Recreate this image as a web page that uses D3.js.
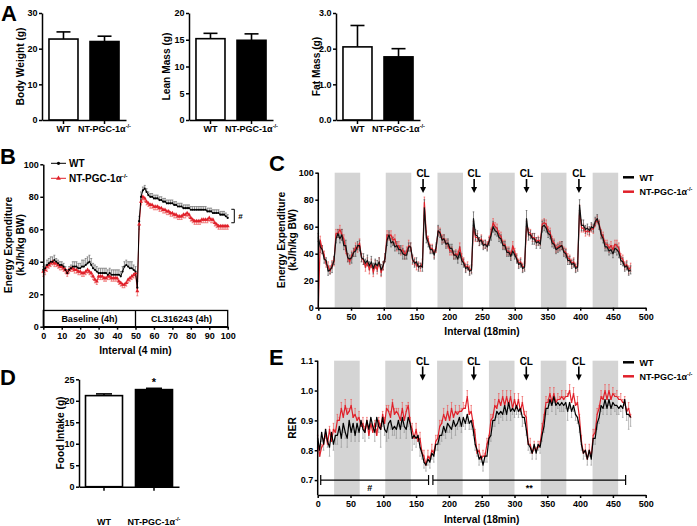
<!DOCTYPE html>
<html><head><meta charset="utf-8">
<script src="https://cdn.jsdelivr.net/npm/d3@7"></script>
<style>
body{margin:0;background:#fff}
svg{display:block}
</style></head><body>
<svg id="chart" width="697" height="526"></svg>
<script>
// ---------------- DATA ----------------
const groups = ["WT", "NT-PGC-1α-/-"];
const bodyWeight = [22.7, 22.0], bodyWeightSem = [2.0, 1.5];
const leanMass = [15.2, 14.9], leanMassSem = [1.0, 1.2];
const fatMass = [2.05, 1.77], fatMassSem = [0.6, 0.23];
const foodIntake = [21.2, 22.6], foodIntakeSem = [0.4, 0.3];
const bwTicks = [0, 10, 20, 30];
const leanTicks = [0, 5, 10, 15, 20];
const fatTicks = [0, 1, 2, 3];
const foodTicks = [0, 5, 10, 15, 20, 25];

// Panel B (interval 4 min, 0..100)
const eeTicks = [0, 20, 40, 60, 80, 100];
const bIntervalTicks = [0, 10, 20, 30, 40, 50, 60, 70, 80, 90, 100];
const bWT = [35,36,38,39,40,40,41,40,39,38,
  38,37,35,33,35,36,37,37,37,36,
  36,37,37,38,39,40,38,36,35,34,
  33,33,33,33,33,32,33,32,32,32,
  32,32,31,34,37,38,37,36,36,35,
  34,24,65,80,84,85,83,81,80,80,
  79,79,79,78,78,77,77,76,76,76,
  76,75,75,74,74,74,73,73,73,73,
  72,72,72,72,72,72,72,72,72,71,
  71,71,70,70,70,70,69,69,69,68,
  67];
const bWTSem = [2,2,3,3,3,3,3,2,2,2,
  2,2,2,2,2,2,3,3,3,3,
  3,4,4,4,4,4,4,3,3,3,
  3,3,3,3,3,3,3,3,3,3,
  3,3,3,3,3,3,3,4,4,3,
  3,4,3,3,2,2,2,2,2,2,
  2,2,2,2,2,2,2,2,2,2,
  2,2,2,2,2,2,2,2,2,2,
  2,2,2,2,2,2,2,2,2,2,
  2,2,2,2,2,2,2,2,2,2,
  2];
const bNT = [34,35,37,38,39,40,39,39,38,37,
  37,36,35,33,35,36,36,35,35,34,
  34,33,33,34,35,34,33,31,29,28,
  31,31,31,30,30,31,31,30,30,30,
  30,28,27,26,26,27,29,30,31,32,
  33,22,63,77,80,79,77,76,75,75,
  74,74,74,73,73,72,72,71,71,70,
  70,69,69,68,68,68,69,69,70,69,
  67,66,65,65,65,65,66,66,66,66,
  67,66,66,64,63,62,62,62,62,62,
  62];
const bNTSem = [3,3,3,2,2,2,2,2,2,2,
  2,2,2,2,2,2,2,2,2,2,
  2,2,2,2,2,2,2,2,2,2,
  2,2,2,2,2,2,2,2,2,2,
  2,2,2,2,2,2,2,2,2,2,
  2,3,3,2,2,2,2,2,2,2,
  2,2,2,2,2,2,2,2,2,2,
  2,2,2,2,2,2,2,2,2,2,
  2,2,2,2,2,2,2,2,2,2,
  2,2,2,2,2,2,2,2,2,2,
  2];
const bPhases = ["Baseline (4h)", "CL316243 (4h)"];

// Panels C & E (interval 18 min, every 3rd interval 0..477)
const intervalTicks18 = [0, 50, 100, 150, 200, 250, 300, 350, 400, 450, 500];
const darkPeriods = [[25,64],[103,142],[182,221],[261,300],[340,379],[419,458]];
const clTimes = [160, 238, 318, 398];
const cWT = [52,45,43,36,35,27,28,30,35,51,
  55,51,54,46,46,37,36,37,41,42,
  46,46,37,36,33,35,31,34,29,33,
  31,34,28,31,37,50,54,48,49,45,
  46,43,43,40,39,39,45,45,36,33,
  34,30,31,30,74,52,48,43,43,39,
  45,57,55,50,51,47,48,44,44,39,
  39,36,41,35,33,29,30,27,28,66,
  54,53,49,50,46,47,45,49,54,60,
  57,56,52,51,46,46,41,41,38,42,
  39,36,32,33,29,30,66,54,54,51,
  51,48,49,47,60,61,59,55,54,48,
  47,43,44,45,46,41,40,35,35,32,
  33,29,30,76,61,61,58,59,57,60,
  59,64,66,61,54,51,45,45,42,43,
  40,44,43,41,35,34,30,31,27,28];
const cWTSem = [3,4,3,3,2,3,3,4,3,3,
  3,3,4,3,4,3,3,4,3,4,
  3,4,3,4,3,4,3,4,4,3,
  4,3,4,3,3,4,3,3,3,3,
  3,3,3,4,3,3,3,3,3,3,
  3,3,2,3,6,4,3,3,3,3,
  3,4,3,3,3,3,3,3,3,3,
  3,3,4,3,3,3,2,3,3,5,
  4,4,3,3,3,3,3,3,4,4,
  3,3,3,3,3,3,3,3,3,3,
  3,3,3,3,3,3,6,4,3,4,
  4,4,3,3,4,4,3,3,3,3,
  3,3,3,3,3,3,3,3,3,3,
  3,3,3,4,4,4,3,3,3,3,
  3,3,3,3,3,3,3,3,3,3,
  3,3,4,4,3,3,3,3,3,3];
const cNT = [0,50,43,39,32,31,27,32,34,55,
  55,58,54,51,43,37,34,39,41,45,
  44,48,37,35,30,34,28,33,26,32,
  28,34,26,31,37,54,53,54,50,51,
  45,46,42,43,39,42,46,45,35,34,
  31,31,30,33,78,54,50,44,44,40,
  44,57,56,51,51,48,47,42,42,39,
  40,39,45,37,34,30,31,28,29,60,
  52,52,49,51,47,47,46,50,56,63,
  60,59,54,53,47,47,42,42,39,46,
  41,37,33,34,30,31,60,56,55,52,
  52,49,50,49,62,63,62,57,56,50,
  48,44,45,46,46,42,41,37,36,33,
  34,30,31,72,59,59,56,57,56,59,
  58,63,65,62,55,53,47,47,44,46,
  43,47,46,44,37,36,31,32,28,30];
const cNTSem = [0,3,3,3,2,3,2,3,3,3,
  3,3,4,3,3,3,2,3,3,3,
  3,3,3,3,3,3,3,3,3,3,
  3,3,3,3,3,3,3,3,3,3,
  3,3,3,3,3,3,4,3,3,3,
  3,3,3,3,4,3,3,3,3,3,
  3,3,3,3,3,3,3,3,3,3,
  3,3,3,3,3,3,3,3,3,4,
  3,3,3,3,3,3,3,3,3,3,
  3,3,3,3,3,3,3,3,3,3,
  3,3,3,3,3,3,4,3,3,3,
  3,3,3,3,3,3,3,3,3,3,
  3,3,3,3,3,3,3,3,3,3,
  3,3,3,4,3,3,3,3,3,3,
  3,3,3,3,3,3,3,3,3,3,
  3,3,4,4,3,3,3,3,3,3];
const rerTicks = [0.7, 0.8, 0.9, 1.0, 1.1];
const eWT = [0.84,0.80,0.86,0.82,0.87,0.83,0.81,0.86,0.82,0.85,
  0.85,0.88,0.84,0.89,0.86,0.84,0.90,0.86,0.89,0.85,
  0.89,0.86,0.90,0.87,0.86,0.90,0.87,0.91,0.88,0.86,
  0.91,0.88,0.87,0.91,0.87,0.86,0.89,0.90,0.87,0.88,
  0.87,0.90,0.87,0.91,0.88,0.87,0.91,0.89,0.84,0.85,
  0.84,0.85,0.81,0.79,0.76,0.75,0.77,0.76,0.79,0.78,
  0.82,0.82,0.85,0.85,0.88,0.86,0.89,0.88,0.87,0.90,
  0.88,0.89,0.91,0.88,0.91,0.89,0.92,0.89,0.90,0.87,
  0.82,0.80,0.77,0.78,0.75,0.78,0.78,0.84,0.85,0.90,
  0.90,0.93,0.92,0.93,0.92,0.95,0.92,0.96,0.93,0.94,
  0.93,0.95,0.93,0.94,0.91,0.91,0.87,0.82,0.81,0.79,
  0.82,0.79,0.82,0.81,0.85,0.88,0.94,0.94,0.97,0.95,
  0.98,0.95,0.96,0.95,0.96,0.95,0.96,0.93,0.96,0.93,
  0.95,0.92,0.91,0.88,0.82,0.79,0.80,0.77,0.80,0.77,
  0.84,0.84,0.89,0.91,0.95,0.94,0.97,0.94,0.97,0.94,
  0.96,0.95,0.95,0.94,0.95,0.94,0.97,0.92,0.92,0.91];
const eWTSem = [0.03,0.02,0.03,0.02,0.03,0.02,0.03,0.03,0.02,0.03,
  0.03,0.02,0.03,0.03,0.02,0.03,0.02,0.03,0.03,0.02,
  0.03,0.03,0.02,0.03,0.03,0.02,0.03,0.03,0.02,0.03,
  0.03,0.02,0.06,0.03,0.02,0.03,0.05,0.03,0.02,0.03,
  0.03,0.02,0.03,0.03,0.02,0.03,0.03,0.02,0.04,0.03,
  0.03,0.02,0.03,0.02,0.02,0.02,0.02,0.02,0.02,0.02,
  0.02,0.02,0.03,0.02,0.03,0.02,0.03,0.02,0.03,0.02,
  0.03,0.02,0.03,0.02,0.03,0.02,0.03,0.02,0.03,0.02,
  0.02,0.02,0.02,0.02,0.02,0.02,0.02,0.02,0.02,0.02,
  0.02,0.02,0.03,0.02,0.02,0.03,0.02,0.02,0.03,0.02,
  0.02,0.03,0.02,0.02,0.03,0.02,0.02,0.02,0.02,0.02,
  0.02,0.02,0.02,0.02,0.02,0.02,0.02,0.02,0.02,0.02,
  0.02,0.03,0.02,0.02,0.03,0.02,0.02,0.03,0.02,0.02,
  0.02,0.02,0.02,0.02,0.02,0.02,0.02,0.02,0.02,0.02,
  0.02,0.02,0.02,0.02,0.02,0.02,0.03,0.02,0.02,0.02,
  0.02,0.02,0.03,0.02,0.02,0.03,0.02,0.02,0.05,0.03];
const eNT = [0.83,0.78,0.81,0.82,0.86,0.82,0.87,0.83,0.87,0.86,
  0.90,0.90,0.94,0.91,0.95,0.92,0.93,0.95,0.91,0.92,
  0.90,0.91,0.88,0.89,0.86,0.90,0.85,0.89,0.86,0.89,
  0.85,0.90,0.87,0.92,0.89,0.94,0.93,0.91,0.96,0.92,
  0.93,0.92,0.90,0.94,0.90,0.93,0.95,0.89,0.87,0.84,
  0.87,0.83,0.84,0.79,0.78,0.75,0.78,0.77,0.80,0.79,
  0.83,0.84,0.88,0.89,0.92,0.90,0.93,0.90,0.94,0.91,
  0.93,0.92,0.93,0.93,0.94,0.94,0.98,0.92,0.93,0.89,
  0.85,0.79,0.80,0.77,0.78,0.78,0.82,0.84,0.90,0.91,
  0.95,0.94,0.97,0.95,0.98,0.95,0.98,0.95,0.98,0.94,
  0.97,0.94,0.97,0.93,0.96,0.92,0.91,0.82,0.82,0.79,
  0.81,0.80,0.81,0.82,0.87,0.91,0.96,0.96,0.99,0.96,
  0.99,0.96,0.97,0.97,0.98,0.97,0.98,0.98,1.00,0.96,
  0.99,0.95,0.96,0.91,0.83,0.79,0.80,0.77,0.80,0.78,
  0.85,0.86,0.92,0.94,0.98,0.97,1.00,0.97,1.00,0.97,
  0.99,0.98,0.98,0.97,0.97,0.96,0.96,0.93,0.94,0.91];
const eNTSem = [0.02,0.02,0.01,0.02,0.01,0.02,0.01,0.02,0.02,0.01,
  0.02,0.01,0.02,0.01,0.02,0.02,0.01,0.02,0.01,0.02,
  0.01,0.02,0.01,0.02,0.02,0.01,0.02,0.01,0.02,0.01,
  0.02,0.01,0.02,0.01,0.02,0.01,0.02,0.02,0.01,0.02,
  0.01,0.02,0.01,0.02,0.01,0.02,0.01,0.02,0.02,0.01,
  0.02,0.01,0.02,0.01,0.02,0.01,0.02,0.01,0.02,0.01,
  0.02,0.01,0.02,0.01,0.02,0.01,0.02,0.01,0.02,0.01,
  0.02,0.01,0.02,0.01,0.02,0.01,0.02,0.01,0.02,0.01,
  0.02,0.01,0.02,0.01,0.02,0.01,0.02,0.01,0.02,0.01,
  0.02,0.01,0.02,0.01,0.02,0.01,0.02,0.01,0.02,0.01,
  0.02,0.01,0.02,0.01,0.02,0.01,0.02,0.01,0.02,0.01,
  0.02,0.01,0.02,0.01,0.02,0.01,0.02,0.01,0.02,0.01,
  0.02,0.01,0.02,0.01,0.02,0.01,0.02,0.01,0.02,0.01,
  0.02,0.01,0.02,0.01,0.02,0.01,0.02,0.01,0.02,0.01,
  0.02,0.01,0.02,0.01,0.02,0.01,0.02,0.01,0.02,0.01,
  0.02,0.01,0.02,0.01,0.02,0.01,0.02,0.01,0.02,0.01];
const rerBrackets = [[4.6, 169, "#"], [175.6, 469.4, "**"]];

// ---------------- DRAWING ----------------
const FONT = "'Liberation Sans', Arial, Helvetica, sans-serif";
const RED = "#e0202a";
const svg = d3.select("#chart").attr("font-family", FONT).attr("font-weight", "bold");

function styleAxis(g, fs) {
  g.attr("font-family", FONT).attr("font-size", fs || 9).attr("font-weight", "bold");
  g.select(".domain").attr("stroke-width", 1.5).attr("stroke", "#000");
  g.selectAll(".tick line").attr("stroke-width", 1.5).attr("stroke", "#000");
  g.selectAll(".tick text").attr("fill", "#000");
}
function txt(x, y, s, fs, anchor) {
  return svg.append("text").attr("x", x).attr("y", y).attr("font-size", fs)
    .attr("text-anchor", anchor || "middle").attr("fill", "#000").text(s);
}
function vTitle(x, cy, s, fs) {
  return svg.append("text").attr("transform", `translate(${x},${cy}) rotate(-90)`)
    .attr("text-anchor", "middle").attr("font-size", fs || 10.2).attr("fill", "#000").text(s);
}
function groupLabel(t, name) {
  if (name === "WT") { t.text("WT"); return; }
  t.append("tspan").text("NT-PGC-1α");
  t.append("tspan").attr("dy", -4).attr("font-size", "0.62em").text("-/-");
}

function barPanel(cfg) {
  const x = d3.scaleBand().domain(groups).range([cfg.left, cfg.left + cfg.width])
    .paddingInner(cfg.pi).paddingOuter(cfg.po);
  const y = d3.scaleLinear().domain([0, cfg.max]).range([cfg.bottom, cfg.top]);
  const g = svg.append("g");
  groups.forEach((d, i) => {
    const cx = x(d) + x.bandwidth() / 2, v = cfg.vals[i], e = cfg.errs[i];
    g.append("line").attr("x1", cx).attr("x2", cx).attr("y1", y(v)).attr("y2", y(v + e))
      .attr("stroke", "#000").attr("stroke-width", 1.6);
    g.append("line").attr("x1", cx - cfg.cap).attr("x2", cx + cfg.cap).attr("y1", y(v + e)).attr("y2", y(v + e))
      .attr("stroke", "#000").attr("stroke-width", 1.6);
  });
  g.selectAll("rect.bar").data(groups).join("rect")
    .attr("x", d => x(d)).attr("width", x.bandwidth())
    .attr("y", (d, i) => y(cfg.vals[i])).attr("height", (d, i) => cfg.bottom - y(cfg.vals[i]))
    .attr("fill", (d, i) => i ? "#000" : "#fff").attr("stroke", "#000").attr("stroke-width", 1.6);
  const ya = g.append("g").attr("transform", `translate(${cfg.left},0)`)
    .call(d3.axisLeft(y).tickValues(cfg.ticks).tickSize(3).tickSizeOuter(0).tickPadding(1.5));
  styleAxis(ya);
  const xa = g.append("g").attr("transform", `translate(0,${cfg.bottom})`)
    .call(d3.axisBottom(x).tickSize(4).tickSizeOuter(0).tickFormat(""));
  styleAxis(xa);
  groups.forEach(d => {
    const t = svg.append("text").attr("x", x(d) + x.bandwidth() / 2).attr("y", cfg.labelY)
      .attr("text-anchor", "middle").attr("font-size", 9).attr("fill", "#000");
    groupLabel(t, d);
  });
  vTitle(cfg.titleX, (cfg.top + cfg.bottom) / 2, cfg.title);
  return { x, y };
}

// ---- Panel A ----
txt(1, 21, "A", 22, "start");
barPanel({ left: 42, width: 84, top: 13, bottom: 120, max: 30, ticks: bwTicks, vals: bodyWeight, errs: bodyWeightSem,
  pi: 0.293, po: 0.17, cap: 7, labelY: 132, title: "Body Weight (g)", titleX: 24 });
barPanel({ left: 189, width: 84, top: 13, bottom: 120, max: 20, ticks: leanTicks, vals: leanMass, errs: leanMassSem,
  pi: 0.293, po: 0.17, cap: 7, labelY: 132, title: "Lean Mass (g)", titleX: 170 });
barPanel({ left: 336, width: 84, top: 13, bottom: 120, max: 3, ticks: fatTicks, vals: fatMass, errs: fatMassSem,
  pi: 0.293, po: 0.17, cap: 7, labelY: 132, title: "Fat Mass (g)", titleX: 319.5 });

// ---- Panel D ----
txt(0, 385, "D", 22, "start");
const dS = barPanel({ left: 79, width: 100, top: 379.3, bottom: 486.7, max: 25, ticks: foodTicks, vals: foodIntake, errs: foodIntakeSem,
  pi: 0.26, po: 0.13, cap: 8, labelY: 525, title: "Food Intake (g)", titleX: 64 });
txt(dS.x(groups[1]) + dS.x.bandwidth() / 2, 386, "*", 11);

// ---- Panel B ----
txt(0, 163.5, "B", 22, "start");
{
  const x = d3.scaleLinear().domain([0, 100]).range([43.3, 227.7]);
  const y = d3.scaleLinear().domain([0, 100]).range([326.7, 164.3]);
  const idx = d3.range(bWT.length);
  svg.append("rect").attr("x", x(0)).attr("y", y(10)).attr("width", x(100) - x(0)).attr("height", y(0) - y(10))
    .attr("fill", "none").attr("stroke", "#000").attr("stroke-width", 1.3);
  svg.append("line").attr("x1", x(50)).attr("x2", x(50)).attr("y1", y(10)).attr("y2", y(0)).attr("stroke", "#000").attr("stroke-width", 1.3);
  txt(x(25), y(5) + 3.2, bPhases[0], 9);
  txt(x(75), y(5) + 3.2, bPhases[1], 9);
  const errPath = (vals, sems, dir) => idx.map(i => {
    const xx = x(i), y1 = y(vals[i]), y2 = y(vals[i] + dir * sems[i]);
    return `M${xx},${y1}V${y2}M${xx - 1},${y2}H${xx + 1}`;
  }).join("");
  svg.append("path").attr("d", errPath(bWT, bWTSem, 1)).attr("stroke", "#777").attr("stroke-width", 0.8).attr("fill", "none");
  svg.append("path").attr("d", errPath(bNT, bNTSem, -1)).attr("stroke", "#ef6a6a").attr("stroke-width", 0.8).attr("fill", "none");
  const line = vals => d3.line().x(i => x(i)).y(i => y(vals[i]))(idx);
  svg.append("path").attr("d", line(bNT)).attr("stroke", RED).attr("stroke-width", 1).attr("fill", "none");
  svg.append("path").attr("d", line(bWT)).attr("stroke", "#000").attr("stroke-width", 1).attr("fill", "none");
  svg.append("g").selectAll("path").data(idx).join("path")
    .attr("transform", i => `translate(${x(i)},${y(bNT[i])})`)
    .attr("d", d3.symbol(d3.symbolTriangle, 7)).attr("fill", RED);
  svg.append("g").selectAll("circle").data(idx).join("circle")
    .attr("cx", i => x(i)).attr("cy", i => y(bWT[i])).attr("r", 1.1).attr("fill", "#000");
  const ya = svg.append("g").attr("transform", `translate(${x(0)},0)`)
    .call(d3.axisLeft(y).tickValues(eeTicks).tickSize(3).tickSizeOuter(0).tickPadding(1.5));
  styleAxis(ya);
  const xa = svg.append("g").attr("transform", `translate(0,${y(0)})`)
    .call(d3.axisBottom(x).tickValues(bIntervalTicks).tickSize(3).tickSizeOuter(0).tickPadding(3));
  styleAxis(xa);
  txt((x(0) + x(100)) / 2, 354, "Interval (4 min)", 10.2);
  vTitle(11.5, 245, "Energy Expenditure");
  vTitle(24, 245, "(kJ/h/kg BW)");
  [["#000", 163.3], [RED, 178.3]].forEach(([c, yy], k) => {
    svg.append("line").attr("x1", 51).attr("x2", 66).attr("y1", yy).attr("y2", yy).attr("stroke", c).attr("stroke-width", 1);
    if (k === 0) svg.append("circle").attr("cx", 58.5).attr("cy", yy).attr("r", 1.6).attr("fill", c);
    else svg.append("path").attr("transform", `translate(58.5,${yy})`).attr("d", d3.symbol(d3.symbolTriangle, 10)).attr("fill", c);
    const t = svg.append("text").attr("x", 69).attr("y", yy + 3.5).attr("font-size", 10).attr("fill", "#000");
    groupLabel(t, groups[k]);
  });
  const bx = 234.3, yTop = y(72.3), yBot = y(64);
  svg.append("path").attr("d", `M${bx - 3},${yTop}H${bx}V${yBot}H${bx - 3}`).attr("stroke", "#000").attr("stroke-width", 1).attr("fill", "none");
  txt(240.5, (yTop + yBot) / 2 + 3, "#", 8);
}

// ---- Panels C and E helper ----
function timeCourse(cfg) {
  const x = d3.scaleLinear().domain([0, 500]).range([cfg.left, 645.7]);
  const y = d3.scaleLinear().domain(cfg.domain).range([cfg.bottom, cfg.top]);
  const iv = d3.range(0, 480, 3);
  svg.append("g").selectAll("rect").data(darkPeriods).join("rect")
    .attr("x", d => x(d[0])).attr("width", d => x(d[1]) - x(d[0]))
    .attr("y", y(cfg.domain[1])).attr("height", y(cfg.domain[0]) - y(cfg.domain[1]))
    .attr("fill", "#d4d4d4");
  const errPath = (vals, sems, up, down) => iv.map((t, i) => {
    const xx = x(t), y1 = y(vals[i] - (down ? sems[i] : 0)), y2 = y(vals[i] + (up ? sems[i] : 0));
    return `M${xx},${y1}V${y2}M${xx - 0.8},${y2}H${xx + 0.8}M${xx - 0.8},${y1}H${xx + 0.8}`;
  }).join("");
  const line = vals => d3.line().x((t, i) => x(t)).y((t, i) => y(vals[i]))(iv);
  cfg.order.forEach(s => {
    svg.append("path").attr("d", errPath(s.vals, s.sems, s.up, s.down)).attr("stroke", s.errColor)
      .attr("stroke-width", 0.7).attr("fill", "none");
  });
  cfg.order.forEach(s => {
    svg.append("path").attr("d", line(s.vals)).attr("stroke", s.color).attr("stroke-width", 1.2)
      .attr("fill", "none").attr("stroke-linejoin", "round");
  });
  const ya = svg.append("g").attr("transform", `translate(${cfg.left},0)`)
    .call(d3.axisLeft(y).tickValues(cfg.ticks).tickFormat(cfg.fmt).tickSize(3).tickSizeOuter(0).tickPadding(1.5));
  ya.select(".domain").attr("d", `M0,${y(cfg.domain[0])}V${y(cfg.domain[1])}`);
  styleAxis(ya);
  const xa = svg.append("g").attr("transform", `translate(0,${cfg.bottom})`)
    .call(d3.axisBottom(x).tickValues(intervalTicks18).tickSize(3).tickSizeOuter(0).tickPadding(3));
  styleAxis(xa);
  txt((x(0) + x(500)) / 2, cfg.bottom + 27.5, "Interval (18min)", 10.2);
  clTimes.forEach(t => {
    const cx = x(t);
    txt(cx, cfg.clY, "CL", 10);
    svg.append("line").attr("x1", cx).attr("x2", cx).attr("y1", cfg.clY + 2).attr("y2", cfg.clY + 12)
      .attr("stroke", "#000").attr("stroke-width", 1.6);
    svg.append("path").attr("d", `M${cx - 3},${cfg.clY + 10}L${cx + 3},${cfg.clY + 10}L${cx},${cfg.clY + 16}Z`).attr("fill", "#000");
  });
  [["#000", cfg.legY[0]], [RED, cfg.legY[1]]].forEach(([c, yy], k) => {
    svg.append("line").attr("x1", 623).attr("x2", 634).attr("y1", yy).attr("y2", yy).attr("stroke", c).attr("stroke-width", 2.5);
    const t = svg.append("text").attr("x", 639.5).attr("y", yy + 3.4).attr("font-size", 9).attr("fill", "#000");
    groupLabel(t, groups[k]);
  });
  return { x, y };
}

// ---- Panel C ----
txt(269, 171, "C", 22, "start");
timeCourse({ left: 318.3, top: 172.7, bottom: 307.7, domain: [0, 100], ticks: eeTicks, fmt: d3.format("d"),
  clY: 177, legY: [177.3, 191.7],
  order: [
    { vals: cNT, sems: cNTSem, color: RED, errColor: "#ee5a5a", up: true, down: true },
    { vals: cWT, sems: cWTSem, color: "#111", errColor: "#555", up: true, down: true }
  ] });
vTitle(284.5, 240, "Energy Expenditure");
vTitle(296, 240, "(kJ/h/kg BW)");

// ---- Panel E ----
txt(269, 364.5, "E", 22, "start");
const eS = timeCourse({ left: 317.7, top: 360.7, bottom: 495, domain: [0.65, 1.1], ticks: rerTicks, fmt: d3.format(".1f"),
  clY: 364.5, legY: [362.3, 376.3],
  order: [
    { vals: eNT, sems: eNTSem, color: RED, errColor: "#ee5a5a", up: true, down: false },
    { vals: eWT, sems: eWTSem, color: "#000", errColor: "#999", up: false, down: true }
  ] });
vTitle(295.5, 428, "RER");
rerBrackets.forEach(([a, b, lab]) => {
  const yy = eS.y(0.7), xa = eS.x(a), xb = eS.x(b);
  svg.append("path").attr("d", `M${xa},${yy - 5}V${yy + 5}M${xa},${yy}H${xb}M${xb},${yy - 5}V${yy + 5}`)
    .attr("stroke", "#000").attr("stroke-width", 1.2).attr("fill", "none");
  txt((xa + xb) / 2 + (lab === "#" ? -5 : 0), yy + 10.5, lab, 9);
});
</script>
</body></html>
